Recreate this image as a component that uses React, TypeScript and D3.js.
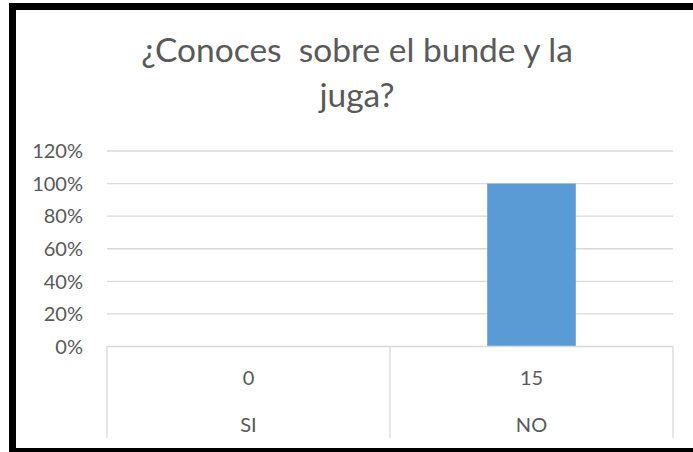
import React, { useEffect, useRef } from "react"
import * as d3 from "d3"

const categories = ["SI", "NO"]
const counts = [0, 15]
const percents = [0, 1]
const yTicks = [0, 0.2, 0.4, 0.6, 0.8, 1, 1.2]
const titleLines = ["¿Conoces  sobre el bunde y la", "juga?"]

const App = () => {
    const ref = useRef<SVGSVGElement>(null)

    useEffect(() => {
        const svg = d3.select(ref.current)
        svg.selectAll("*").remove()
        const width = 693
        const height = 452
        const left = 107
        const right = 673
        const top = 151
        const bottom = 346.5
        const tableBottom = 438
        const font = "Lato, 'Open Sans', sans-serif"
        const grey = "#595959"

        svg.append("rect").attr("width", width).attr("height", height).attr("fill", "white")

        // chart frame
        svg.append("rect")
            .attr("x", 12.5)
            .attr("y", 6.5)
            .attr("width", 720)
            .attr("height", 445)
            .attr("fill", "none")
            .attr("stroke", "black")
            .attr("stroke-width", 7)

        const x = d3.scaleBand().domain(categories).range([left, right]).paddingInner(0).paddingOuter(0)
        const y = d3.scaleLinear().domain([0, 1.2]).range([bottom, top])

        // title
        svg.append("g")
            .selectAll("text")
            .data(titleLines)
            .enter()
            .append("text")
            .attr("x", 357)
            .attr("y", (d, i) => 62 + i * 45)
            .attr("text-anchor", "middle")
            .attr("font-family", font)
            .attr("font-size", 33.5)
            .attr("fill", grey)
            .style("white-space", "pre")
            .text(d => d)

        // gridlines
        svg.append("g")
            .selectAll("line")
            .data(yTicks.filter(t => t > 0))
            .enter()
            .append("line")
            .attr("x1", left)
            .attr("x2", right)
            .attr("y1", d => y(d))
            .attr("y2", d => y(d))
            .attr("stroke", "#d9d9d9")
            .attr("stroke-width", 1.3)

        // y tick labels
        svg.append("g")
            .selectAll("text")
            .data(yTicks)
            .enter()
            .append("text")
            .attr("x", 83)
            .attr("y", d => y(d))
            .attr("dy", "0.36em")
            .attr("text-anchor", "end")
            .attr("font-family", font)
            .attr("font-size", 20)
            .attr("fill", grey)
            .text(d => d3.format(".0%")(d))

        // bars
        svg.append("g")
            .selectAll("rect")
            .data(categories)
            .enter()
            .append("rect")
            .attr("x", d => x(d)! + x.bandwidth() * 0.3435)
            .attr("width", x.bandwidth() * 0.313)
            .attr("y", (d, i) => y(percents[i]))
            .attr("height", (d, i) => y(0) - y(percents[i]))
            .attr("fill", "#5b9bd5")

        // table style axis
        const axis = svg.append("g").attr("stroke", "#d9d9d9").attr("stroke-width", 1.3)
        axis.append("line").attr("x1", left).attr("x2", right).attr("y1", bottom).attr("y2", bottom)
        const edges = categories.map(c => x(c)!).concat([right])
        axis.selectAll("line.v")
            .data(edges)
            .enter()
            .append("line")
            .attr("class", "v")
            .attr("x1", d => d)
            .attr("x2", d => d)
            .attr("y1", bottom)
            .attr("y2", tableBottom)

        const labels = svg.append("g")
            .attr("font-family", font)
            .attr("font-size", 20)
            .attr("fill", grey)
            .attr("text-anchor", "middle")
        labels.selectAll("text.count")
            .data(counts)
            .enter()
            .append("text")
            .attr("class", "count")
            .attr("x", (d, i) => x(categories[i])! + x.bandwidth() / 2)
            .attr("y", 378)
            .attr("dy", "0.36em")
            .text(d => d)
        labels.selectAll("text.cat")
            .data(categories)
            .enter()
            .append("text")
            .attr("class", "cat")
            .attr("x", d => x(d)! + x.bandwidth() / 2)
            .attr("y", 424.5)
            .attr("dy", "0.36em")
            .text(d => d)
    }, [])

    return (
        <svg
            ref={ref}
            width={693}
            height={452}
            style={{ position: "absolute", left: 0, top: 0 }}
        />
    )
}

export default App
